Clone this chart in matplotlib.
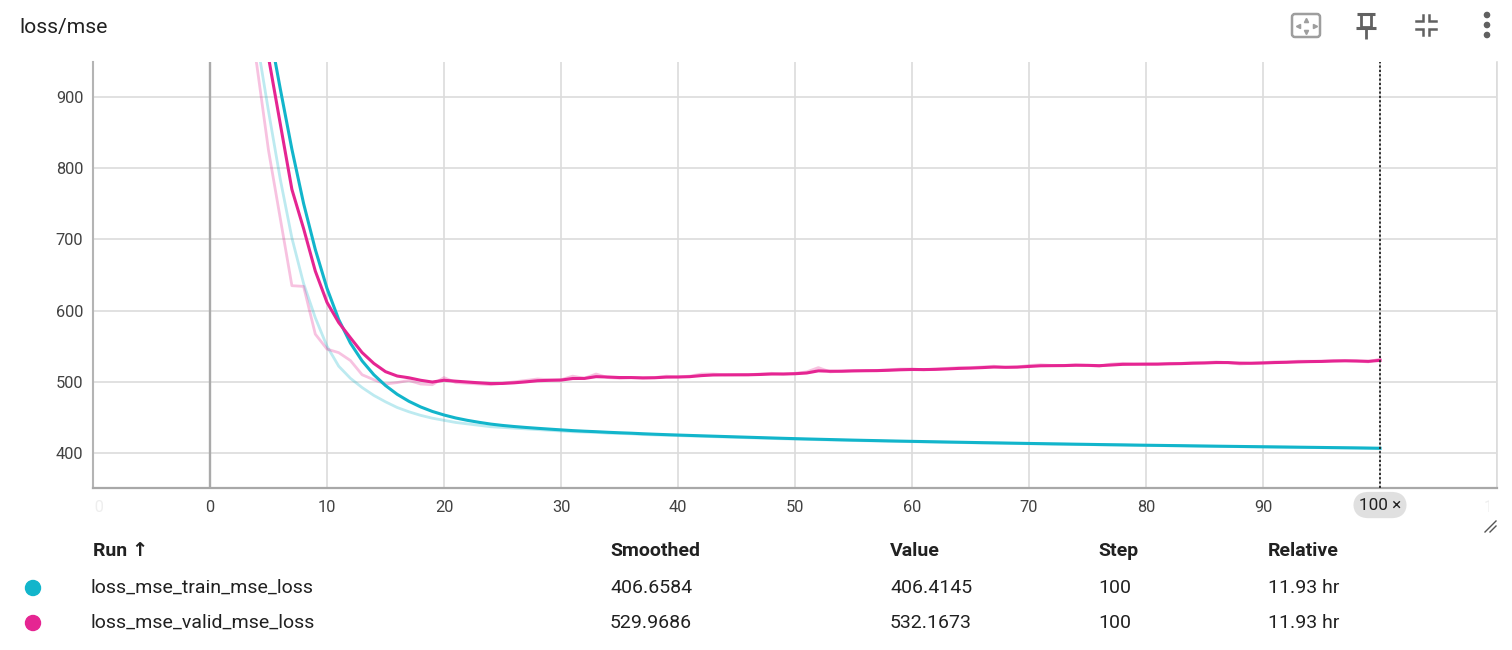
import numpy as np
import matplotlib
matplotlib.use("Agg")
import matplotlib.pyplot as plt
from matplotlib.patches import FancyBboxPatch, Circle
from matplotlib.transforms import Bbox, TransformedBbox, blended_transform_factory

plt.rcParams['font.family'] = ['Roboto', 'DejaVu Sans']

# ---------------- data ----------------
steps = list(range(0, 101))

train_raw = [1380, 1280, 1180, 1080, 980, 880, 785, 702, 638, 590,
             550, 522, 505, 492, 481, 472, 464, 458, 453, 449,
             446, 443, 441, 439, 437, 436, 435, 434, 433, 432,
             431, 430, 429.5, 429, 428, 427.5, 427, 426, 425.5, 425,
             424.5, 424, 423.5, 423, 422.5, 422, 421.5, 421, 420.5, 420,
             419.6, 419.2, 418.8, 418.4, 418, 417.6, 417.3, 417, 416.6, 416.3,
             416, 415.7, 415.4, 415.1, 414.8, 414.5, 414.2, 414, 413.7, 413.4,
             413.1, 412.9, 412.6, 412.4, 412.1, 411.9, 411.6, 411.4, 411.2, 410.9,
             410.7, 410.5, 410.3, 410.1, 409.8, 409.6, 409.4, 409.2, 409, 408.8,
             408.6, 408.4, 408.2, 408, 407.8, 407.6, 407.4, 407.2, 407, 406.7,
             406.4145]

valid_raw = [1340, 1240, 1140, 1040, 945, 825, 730, 635, 634, 567,
             546, 541, 530, 510, 503, 497, 499, 502, 497, 496,
             506, 499, 498, 497, 496, 498, 500, 502, 504, 503,
             503, 508, 505, 511, 506, 505, 506, 505, 506, 508,
             507, 508, 511, 511, 510, 510, 510, 511, 512, 511,
             512, 514, 520, 514, 515, 516, 516, 516, 517, 518,
             518, 517, 518, 519, 520, 520, 521, 522, 520, 521,
             523, 524, 523, 523, 524, 523, 522, 525, 526, 525,
             525, 525, 526, 526, 527, 527, 528, 527, 525, 526,
             527, 528, 528, 529, 529, 529, 530, 530, 529, 528,
             532.1673]

run_names = ["loss_mse_train_mse_loss", "loss_mse_valid_mse_loss"]
run_colors = ["#12b5cb", "#e52592"]
smoothed_col = ["406.6584", "529.9686"]
value_col = ["406.4145", "532.1673"]
step_col = ["100", "100"]
relative_col = ["11.93 hr", "11.93 hr"]
table_headers = ["Run \u2191", "Smoothed", "Value", "Step", "Relative"]

x_ticks = [-10, 0, 10, 20, 30, 40, 50, 60, 70, 80, 90, 100, 110]
y_ticks = [400, 500, 600, 700, 800, 900]
smoothing_weight = 0.6


def tb_smooth(values, weight):
    """TensorBoard style debiased exponential moving average."""
    out = []
    last = 0.0
    n = 0
    for v in values:
        last = last * weight + (1 - weight) * v
        n += 1
        out.append(last / (1 - weight ** n))
    return out


train_smooth = tb_smooth(train_raw, smoothing_weight)
valid_smooth = tb_smooth(valid_raw, smoothing_weight)

# ---------------- figure ----------------
W, H = 1512, 650
fig = plt.figure(figsize=(W / 100, H / 100), dpi=100)
fig.patch.set_facecolor("white")

ax = fig.add_axes([93 / W, 1 - 488 / H, (1497 - 93) / W, (488 - 62) / H])
ax.set_xlim(-10, 110)
ax.set_ylim(351, 949)

ax.set_xticks(x_ticks)
ax.set_yticks(y_ticks)
xlabels = [str(t) if t != 100 else "" for t in x_ticks]
ax.set_xticklabels(xlabels)
ax.tick_params(length=0, labelsize=11.8, colors="#424242")
ax.tick_params(axis="y", pad=7)
ax.tick_params(axis="x", pad=9)
ax.grid(True, color="#dcdcdc", linewidth=1.2)
ax.set_axisbelow(True)

ax.spines["top"].set_visible(False)
ax.spines["right"].set_color("#dcdcdc")
ax.spines["right"].set_linewidth(1.2)
ax.spines["left"].set_color("#b4b4b4")
ax.spines["left"].set_linewidth(1.5)
ax.spines["bottom"].set_color("#a8a8a8")
ax.spines["bottom"].set_linewidth(1.6)

ax.axvline(0, color="#aaaaaa", linewidth=1.7, zorder=1)

# faded edge tick labels, clipped to the plot width
clipbox = TransformedBbox(Bbox([[0, -1], [0.994, 1]]), ax.transAxes)
for lab, t in zip(ax.get_xticklabels(), x_ticks):
    if t in (-10, 110):
        lab.set_color("#eeeeee")
        lab.set_clip_on(True)
        lab.set_clip_box(clipbox)

# raw lines
ax.plot(steps, train_raw, color=run_colors[0], alpha=0.28, linewidth=2.0, zorder=2)
ax.plot(steps, valid_raw, color=run_colors[1], alpha=0.28, linewidth=2.0, zorder=2)
# smoothed lines
ax.plot(steps, train_smooth, color=run_colors[0], linewidth=2.2, zorder=3)
ax.plot(steps, valid_smooth, color=run_colors[1], linewidth=2.2, zorder=4)

# hover line at step 100
ax.axvline(100, color="#222222", linewidth=1.3, linestyle=(0, (1.2, 1.2)), zorder=5)
trans = blended_transform_factory(ax.transData, ax.transAxes)
ax.text(100, -0.04, "100 \u00d7", transform=trans, ha="center", va="center",
        fontsize=12.3, color="#212121", clip_on=False,
        bbox=dict(boxstyle="round,pad=0.33,rounding_size=0.9", fc="#e0e0e0", ec="none"))

# ---------------- overlay (pixel coordinates) ----------------
ov = fig.add_axes([0, 0, 1, 1], zorder=10)
ov.set_xlim(0, W)
ov.set_ylim(H, 0)
ov.axis("off")
ov.patch.set_alpha(0)

ov.text(19, 27, "loss/mse", fontsize=15.2, color="#212121", va="center", ha="left")

# fit-domain icon
ov.add_patch(FancyBboxPatch((1292, 14), 28, 23, boxstyle="round,pad=0,rounding_size=3",
                            fc="none", ec="#9e9e9e", lw=1.8))
ov.plot([1306], [19.5], marker="^", ms=3, color="#9e9e9e")
ov.plot([1306], [31.5], marker="v", ms=3, color="#9e9e9e")
ov.plot([1297.5], [25.5], marker="<", ms=3, color="#9e9e9e")
ov.plot([1314.5], [25.5], marker=">", ms=3, color="#9e9e9e")
# pin icon
pin = "#616161"
ov.plot([1357, 1375], [14, 14], color=pin, lw=2.2, solid_capstyle="butt")
ov.plot([1361, 1361, 1371, 1371], [14, 27, 27, 14], color=pin, lw=2.0)
ov.plot([1356, 1376], [28, 28], color=pin, lw=2.2, solid_capstyle="butt")
ov.plot([1366, 1366], [28, 39], color=pin, lw=2.0, solid_capstyle="butt")
# collapse icon
for (xs, ys) in [([1416, 1423, 1423], [21, 21, 15]),
                 ([1436, 1429, 1429], [21, 21, 15]),
                 ([1416, 1423, 1423], [29, 29, 35]),
                 ([1436, 1429, 1429], [29, 29, 35])]:
    ov.plot(xs, ys, color=pin, lw=1.8, solid_joinstyle="miter")
# kebab menu
for yy in [15, 25, 35]:
    ov.add_patch(Circle((1487, yy), 2.6, color=pin))
# resize handle
ov.plot([1485, 1496], [532, 521], color="#555555", lw=1.0)
ov.plot([1490, 1496], [532, 526], color="#555555", lw=1.0)

# ---------------- run table ----------------
col_x = [93, 610, 890, 1098, 1268]
header_y = 551
row_y = [588, 623]
for x, h in zip(col_x, table_headers):
    ov.text(x, header_y, h, fontsize=14, fontweight="bold", color="#212121",
            va="center", ha="left")

for i in range(2):
    ov.add_patch(Circle((33, row_y[i]), 7.5, color=run_colors[i]))
    cells = [run_names[i], smoothed_col[i], value_col[i], step_col[i], relative_col[i]]
    xs = [91] + col_x[1:]
    for x, c in zip(xs, cells):
        ov.text(x, row_y[i], c, fontsize=14, color="#212121", va="center", ha="left")

fig.savefig("out.png", dpi=100, facecolor="white")
